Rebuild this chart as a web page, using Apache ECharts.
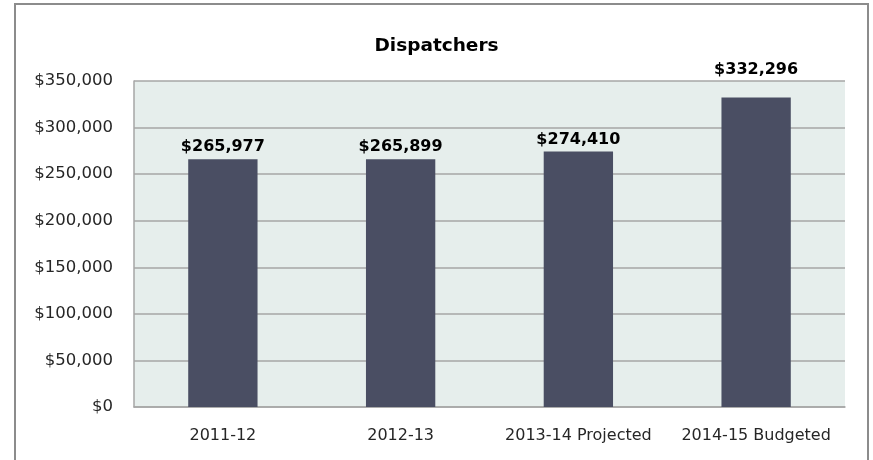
<!DOCTYPE html>
<html><head><meta charset="utf-8">
<script src="https://cdn.jsdelivr.net/npm/echarts@6/dist/echarts.min.js"></script>
<style>html,body{margin:0;padding:0;background:#fff}#c{width:873px;height:460px}</style>
</head><body><div id="c"></div>
<script>
const categories = ["2011-12", "2012-13", "2013-14 Projected", "2014-15 Budgeted"];
const values = [265977, 265899, 274410, 332296];
const yTicks = { min: 0, max: 350000, interval: 50000 };
const titleText = "Dispatchers";

const fmt = v => "$" + Math.round(v).toLocaleString("en-US");
const font = "'DejaVu Sans', sans-serif";
const chart = echarts.init(document.getElementById("c"), null, {renderer: "canvas"});
chart.setOption({
  animation: false,
  backgroundColor: "#fff",
  graphic: [{
    type: "rect", shape: {x: 15, y: 4, width: 853, height: 480},
    style: {fill: "none", stroke: "#8c8c8c", lineWidth: 2}, z: 100, silent: true
  }],
  title: {
    text: titleText, left: "center", top: 32,
    textStyle: {fontFamily: font, fontWeight: "bold", fontSize: 18.5, color: "#000"}
  },
  grid: {
    left: 134, right: 28, top: 81, bottom: 53,
    show: true, backgroundColor: "#e6eeec", borderWidth: 0
  },
  xAxis: {
    type: "category", data: categories,
    axisLine: {show: true, lineStyle: {color: "#a6a6a6", width: 1.5}},
    axisTick: {show: false},
    axisLabel: {fontFamily: font, fontSize: 16, color: "#262626", margin: 21, interval: 0}
  },
  yAxis: {
    type: "value", min: yTicks.min, max: yTicks.max, interval: yTicks.interval,
    axisLine: {show: true, lineStyle: {color: "#a6a6a6", width: 1.5}},
    axisTick: {show: false},
    splitLine: {show: true, lineStyle: {color: "#a6a6a6", width: 1.5}},
    axisLabel: {fontFamily: font, fontSize: 16.5, color: "#262626", margin: 21, formatter: v => fmt(v)}
  },
  series: [{
    type: "bar",
    data: values.map((v, i) => i === values.length - 1 ? {value: v, label: {distance: 20}} : v),
    barWidth: "39%",
    itemStyle: {color: "#4a4e63"},
    label: {show: true, position: "top", distance: 4, formatter: p => fmt(p.value),
      fontFamily: font, fontWeight: "bold", fontSize: 16, color: "#000"}
  }]
});
</script></body></html>
